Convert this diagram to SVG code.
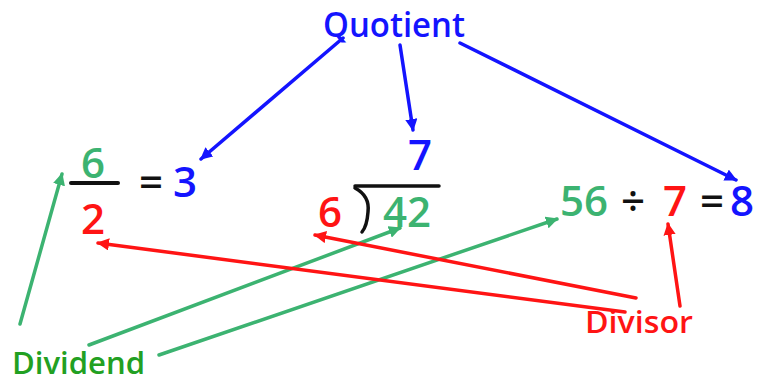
<svg xmlns="http://www.w3.org/2000/svg" width="766" height="383" viewBox="0 0 766 383">
<defs>
<marker id="ab" viewBox="0 0 10 10" refX="9" refY="5" markerWidth="3.5" markerHeight="3.5" orient="auto" markerUnits="strokeWidth"><path d="M0,0 L10,5 L0,10 z" fill="#1414ff"/></marker>
<marker id="ag" viewBox="0 0 10 10" refX="9" refY="5" markerWidth="3.5" markerHeight="3.5" orient="auto" markerUnits="strokeWidth"><path d="M0,0 L10,5 L0,10 z" fill="#3cb371"/></marker>
<marker id="ar" viewBox="0 0 10 10" refX="9" refY="5" markerWidth="3.5" markerHeight="3.5" orient="auto" markerUnits="strokeWidth"><path d="M0,0 L10,5 L0,10 z" fill="#ff1414"/></marker>
</defs>
<style>
text{font-family:"Open Sans","DejaVu Sans",sans-serif;font-weight:600}
.num{font-size:42px}
.b{fill:#1414ff}.g{fill:#3cb371}.r{fill:#ff1414}.k{fill:#111}
.lb{stroke:#1414ff;stroke-width:3.5;fill:none;stroke-linecap:round}
.lg{stroke:#3cb371;stroke-width:3.5;fill:none;stroke-linecap:round}
.lr{stroke:#ff1414;stroke-width:3.5;fill:none;stroke-linecap:round}
</style>
<rect width="766" height="383" fill="#fff"/>
<g id="quotient"><text x="323" y="37" font-size="34" class="b" textLength="142" lengthAdjust="spacingAndGlyphs">Quotient</text></g>
<g id="fraction">
<text x="81" y="178" class="num g">6</text>
<line x1="71" y1="183" x2="118" y2="183" stroke="#111" stroke-width="4" stroke-linecap="round"/>
<text x="81" y="234" class="num r">2</text>
<text x="139" y="197" class="num k">=</text>
<text x="173" y="197" class="num b">3</text>
</g>
<g id="longdivision">
<text x="408" y="170" class="num b">7</text>
<line x1="355" y1="186" x2="439" y2="186" stroke="#111" stroke-width="3.5" stroke-linecap="round"/>
<path d="M355,188 Q370,196 368,212 Q367,226 362,232" stroke="#111" stroke-width="3.5" fill="none" stroke-linecap="round"/>
<text x="318" y="227" class="num r">6</text>
<text x="383" y="227" class="num g">42</text>
</g>
<g id="equation">
<text x="560" y="216" class="num g">56</text>
<text x="621" y="216" class="num k" font-size="36">÷</text>
<text x="663" y="216" class="num r">7</text>
<text x="700" y="216" class="num k">=</text>
<text x="730" y="216" class="num b">8</text>
</g>
<g id="dividend"><text x="12" y="374" font-size="30" fill="#22a022" textLength="133" lengthAdjust="spacingAndGlyphs">Dividend</text></g>
<g id="divisor"><text x="585" y="333" font-size="30" class="r" textLength="108" lengthAdjust="spacingAndGlyphs">Divisor</text></g>
<g id="connectors">
<line x1="343" y1="38" x2="201" y2="159" class="lb" marker-end="url(#ab)"/>
<line x1="400" y1="45" x2="413" y2="130" class="lb" marker-end="url(#ab)"/>
<line x1="460" y1="43" x2="736" y2="180" class="lb" marker-end="url(#ab)"/>
<line x1="20" y1="324" x2="62" y2="174" class="lg" marker-end="url(#ag)"/>
<line x1="89" y1="345" x2="400" y2="228" class="lg" marker-end="url(#ag)"/>
<line x1="159" y1="355" x2="557" y2="219" class="lg" marker-end="url(#ag)"/>
<line x1="625" y1="312" x2="98" y2="243" class="lr" marker-end="url(#ar)"/>
<line x1="636" y1="298" x2="315" y2="235" class="lr" marker-end="url(#ar)"/>
<line x1="680" y1="306" x2="668" y2="224" class="lr" marker-end="url(#ar)"/>
</g>
</svg>
